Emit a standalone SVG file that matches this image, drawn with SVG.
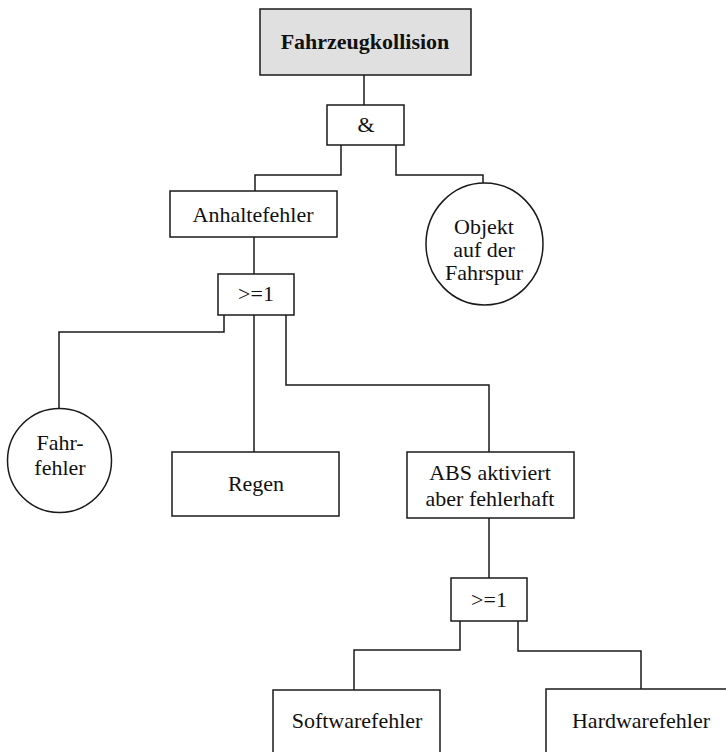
<svg xmlns="http://www.w3.org/2000/svg" width="726" height="752" viewBox="0 0 726 752">
<style>
.b{fill:#fff;stroke:#1a1a1a;stroke-width:1.5}
.g{fill:#e0e0e0;stroke:#1a1a1a;stroke-width:1.5}
.t{font-family:"Liberation Serif","Times New Roman",serif;font-size:22px;fill:#111;text-anchor:middle}
.bold{font-weight:bold}
.c{fill:none;stroke:#1a1a1a;stroke-width:1.5}
</style>
<rect width="726" height="752" fill="#fff"/>
<g id="connectors">
<path class="c" d="M364,75 V105"/>
<path class="c" d="M341,145 V175 H255 V191"/>
<path class="c" d="M396,145 V175 H483 V183"/>
<path class="c" d="M254,237 V274"/>
<path class="c" d="M224,315 V332 H59 V409"/>
<path class="c" d="M254,315 V452"/>
<path class="c" d="M286,315 V385 H489 V452"/>
<path class="c" d="M489,518 V578"/>
<path class="c" d="M460,621 V650 H354 V690"/>
<path class="c" d="M518,621 V651 H641 V689"/>
</g>
<g id="top">
<rect class="g" x="260" y="9" width="211" height="66"/>
<text class="t bold" x="365" y="49">Fahrzeugkollision</text>
</g>
<g id="and">
<rect class="b" x="327" y="105" width="77" height="40"/>
<text class="t" x="366" y="132">&amp;</text>
</g>
<g id="anhaltefehler">
<rect class="b" x="170" y="191" width="167" height="46"/>
<text class="t" x="253" y="222">Anhaltefehler</text>
</g>
<g id="objekt">
<ellipse class="b" cx="484.5" cy="244" rx="58.5" ry="61"/>
<text class="t" x="484" y="234">Objekt</text>
<text class="t" x="484" y="257">auf der</text>
<text class="t" x="484" y="280">Fahrspur</text>
</g>
<g id="or1">
<rect class="b" x="218" y="274" width="76" height="41"/>
<text class="t" x="256" y="301">&gt;=1</text>
</g>
<g id="fahrfehler">
<circle class="b" cx="59.5" cy="460.5" r="52"/>
<text class="t" x="60" y="450">Fahr-</text>
<text class="t" x="60" y="475">fehler</text>
</g>
<g id="regen">
<rect class="b" x="172" y="452" width="167" height="64"/>
<text class="t" x="256" y="491">Regen</text>
</g>
<g id="abs">
<rect class="b" x="407" y="452" width="167" height="66"/>
<text class="t" x="490" y="480">ABS aktiviert</text>
<text class="t" x="490" y="506">aber fehlerhaft</text>
</g>
<g id="or2">
<rect class="b" x="451" y="578" width="76" height="43"/>
<text class="t" x="489" y="607">&gt;=1</text>
</g>
<g id="software">
<rect class="b" x="273" y="690" width="167" height="80"/>
<text class="t" x="357" y="728">Softwarefehler</text>
</g>
<g id="hardware">
<rect class="b" x="546" y="689" width="200" height="80"/>
<text class="t" x="641" y="728">Hardwarefehler</text>
</g>
</svg>
